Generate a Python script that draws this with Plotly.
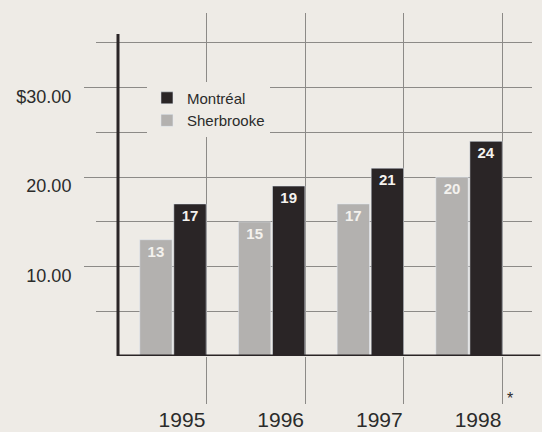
import plotly.graph_objects as go

years = [1995, 1996, 1997, 1998]
year_labels = ["1995", "1996", "1997", "1998"]
montreal = [17, 19, 21, 24]
sherbrooke = [13, 15, 17, 20]
y_tickvals = [10, 20, 30]
y_ticktext = ["10.00", "20.00", "$30.00"]

BG = "#eeebe6"
DARK = "#2a2526"
LIGHT = "#b3b1af"
GRID = "#8c8a87"
TXT = "#2b2b2b"
FONT = "Liberation Sans, Arial, sans-serif"

fig = go.Figure()
fig.add_trace(go.Bar(
    x=years, y=sherbrooke, name="Sherbrooke", marker_color=LIGHT,
    text=[str(v) for v in sherbrooke], textposition="inside",
    insidetextanchor="end", textangle=0,
    textfont=dict(color="#f4f2ee", size=15, family=FONT, weight="bold"),
))
fig.add_trace(go.Bar(
    x=years, y=montreal, name="Montréal", marker_color=DARK,
    text=[str(v) for v in montreal], textposition="inside",
    insidetextanchor="end", textangle=0,
    textfont=dict(color="#f4f2ee", size=15, family=FONT, weight="bold"),
))

fig.update_layout(
    width=542, height=432,
    margin=dict(l=118, r=10, t=13, b=76, autoexpand=False),
    paper_bgcolor=BG, plot_bgcolor=BG,
    barmode="group", bargap=0.31, bargroupgap=0.05,
    font=dict(family=FONT, color=TXT),
    showlegend=True,
    legend=dict(
        x=0.07, y=0.80, xanchor="left", yanchor="top",
        bgcolor=BG, borderwidth=0, traceorder="reversed",
        font=dict(size=15, color=TXT, family=FONT),
        tracegroupgap=0, itemwidth=30,
    ),
    uniformtext=dict(mode=False),
)

fig.update_xaxes(
    range=[1994.443, 1998.638], automargin=False,
    tickvals=years, ticktext=year_labels,
    ticks="", showgrid=False, zeroline=False, showline=False,
    tickfont=dict(size=21, color=TXT, family=FONT),
    ticklabelstandoff=49, ticklabelshift=9,
    minor=dict(tick0=1995.34, dtick=1, ticks="outside", ticklen=47,
               tickcolor=GRID, tickwidth=1, showgrid=True,
               gridcolor=GRID, gridwidth=1),
)
fig.update_yaxes(
    range=[0, 38.35], automargin=False,
    tickvals=y_tickvals, ticktext=y_ticktext,
    ticks="outside", ticklen=33, tickcolor=GRID, tickwidth=1,
    showgrid=True, gridcolor=GRID, gridwidth=1,
    zeroline=False, showline=False,
    tickfont=dict(size=18, color=TXT, family=FONT),
    ticklabelstandoff=9, ticklabelshift=9,
    minor=dict(tickvals=[5, 15, 25, 35], ticks="outside", ticklen=21,
               tickcolor=GRID, tickwidth=1, showgrid=True,
               gridcolor=GRID, gridwidth=1),
)

# axis lines
fig.add_shape(type="line", xref="paper", yref="y", x0=0, x1=0, y0=0, y1=36,
              line=dict(color=DARK, width=3))
fig.add_shape(type="line", xref="paper", yref="y", x0=0, x1=1.02, y0=0, y1=0,
              line=dict(color=DARK, width=3))

fig.add_annotation(x=1998.42, xref="x", y=-0.155, yref="paper", text="*",
                   showarrow=False, font=dict(size=16, color=TXT, family=FONT))

fig.write_html(
    "out.html",
    config={"displayModeBar": False},
    post_script="document.body.style.margin='0';document.body.style.background='#eeebe6';",
)
